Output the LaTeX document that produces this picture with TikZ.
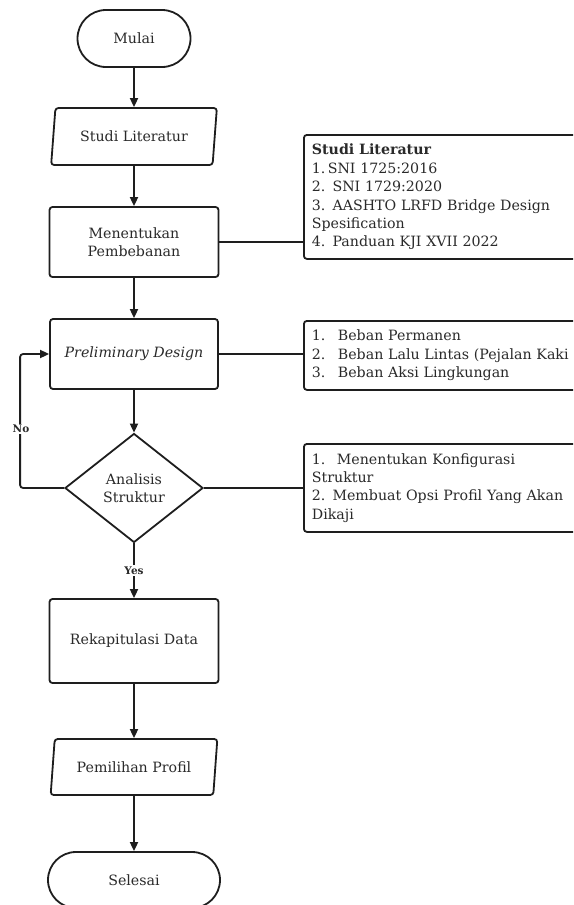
\documentclass[tikz,border=0pt]{standalone}
\usepackage{fontspec}
\setmainfont{DejaVu Serif}
\usetikzlibrary{shapes.geometric,shapes.misc,arrows.meta}
\definecolor{ln}{HTML}{1E1E1E}
\definecolor{tx}{HTML}{2A2A2A}
\begin{document}
\begin{tikzpicture}[x=1pt,y=-1pt,
  every node/.style={text=tx, font=\fontsize{14.2}{18.4}\selectfont},
  proc/.style={draw=ln, line width=1.8pt, rounded corners=3pt, align=center, inner sep=0pt},
  term/.style={draw=ln, line width=1.8pt, rounded rectangle, align=center, inner sep=0pt},
  io/.style={draw=ln, line width=1.8pt, rounded corners=3pt, trapezium, trapezium left angle=75, trapezium right angle=105, trapezium stretches=true, align=center, inner sep=0pt},
  dec/.style={draw=ln, line width=1.8pt, diamond, aspect=1.27, inner sep=0pt, align=center},
  note/.style={draw=ln, line width=1.8pt, rounded corners=3pt, anchor=north west, text width=340pt, align=left, inner xsep=8pt, inner ysep=0pt},
  arr/.style={draw=ln, line width=1.8pt, -{Triangle[length=9pt,width=8pt]}},
  conn/.style={draw=ln, line width=1.8pt},
  lbl/.style={fill=white, font=\bfseries\fontsize{10.5}{12}\selectfont, inner sep=1.5pt}
]
\fill[white] (0,0) rectangle (573,905);
\clip (0,0) rectangle (573,905);

\node[term, minimum width=113pt, minimum height=57pt] (mulai) at (134,38.5) {Mulai};
\node[io, minimum width=166pt, minimum height=57pt] (studi) at (134,136.5) {Studi Literatur};
\node[proc, minimum width=169pt, minimum height=70pt] (tentu) at (134,242) {Menentukan\\Pembebanan};
\node[proc, minimum width=168pt, minimum height=70pt] (prelim) at (134,354) {\textit{Preliminary Design}};
\node[dec, minimum width=138pt, minimum height=109pt] (anal) at (134,488) {Analisis\\Struktur};
\node[proc, minimum width=169pt, minimum height=84pt] (rekap) at (134,641) {Rekapitulasi Data};
\node[io, minimum width=167pt, minimum height=56pt] (pilih) at (134,767) {Pemilihan Profil};
\node[term, minimum width=172pt, minimum height=56pt] (selesai) at (134,880) {Selesai};

\node[note, minimum height=124pt] (n1) at (303,134) {\textbf{Studi Literatur}\\1.\,SNI 1725:2016\\2. SNI 1729:2020\\3. AASHTO LRFD Bridge Design\\Spesification\\4. Panduan KJI XVII 2022};
\node[note, minimum height=69pt] (n2) at (303,320) {\makebox[26pt][l]{1.}Beban Permanen\\\makebox[26pt][l]{2.}Beban Lalu Lintas (Pejalan Kaki\\\makebox[26pt][l]{3.}Beban Aksi Lingkungan};
\node[note, minimum height=88pt] (n3) at (303,443) {\makebox[25pt][l]{1.}Menentukan Konfigurasi\\Struktur\\2. Membuat Opsi Profil Yang Akan\\Dikaji};

\draw[arr] (mulai) -- (studi);
\draw[arr] (studi) -- (tentu);
\draw[arr] (tentu) -- (prelim);
\draw[arr] (prelim) -- (anal);
\draw[arr] (anal) -- node[lbl] (yes) {Yes} (rekap);
\draw[arr] (rekap) -- (pilih);
\draw[arr] (pilih) -- (selesai);

\draw[arr, rounded corners=3pt] (anal.west) -- ++(-44,0) |- (prelim.west);
\node[lbl] (no) at (21,429) {No};

\draw[conn] (tentu.east) -- (tentu.east -| n1.west);
\draw[conn] (prelim.east) -- (prelim.east -| n2.west);
\draw[conn] (anal.east) -- (anal.east -| n3.west);
\end{tikzpicture}
\end{document}
